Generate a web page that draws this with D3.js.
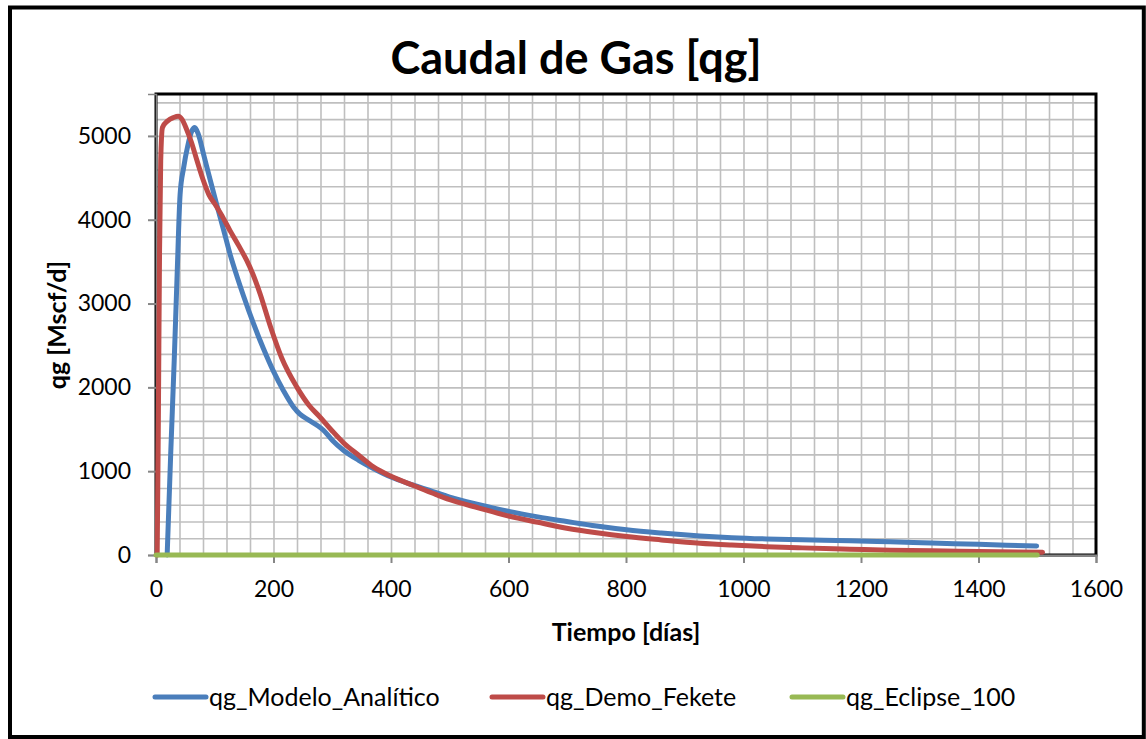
<!DOCTYPE html>
<html>
<head>
<meta charset="utf-8">
<script src="https://cdn.jsdelivr.net/npm/d3@7"></script>
<style>
  html, body { margin: 0; padding: 0; background: #fff; }
  svg { display: block; font-family: Lato, "Open Sans", sans-serif; }
</style>
</head>
<body>
<svg id="chart" width="1146" height="739"></svg>
<script>
// ---- data ----
const title = "Caudal de Gas [qg]";
const xTitle = "Tiempo [días]";
const yTitle = "qg [Mscf/d]";
const xTicks = [0, 200, 400, 600, 800, 1000, 1200, 1400, 1600];
const yTicks = [0, 1000, 2000, 3000, 4000, 5000];
const seriesNames = ["qg_Modelo_Analítico", "qg_Demo_Fekete", "qg_Eclipse_100"];

const analiticoT = [19, 25, 31, 36, 41, 47, 54, 61, 66, 72, 81, 92, 103, 115, 126, 138, 149, 166, 183, 200, 217, 234, 245, 260, 274, 285, 300, 319, 345, 370, 400, 438, 470, 500, 550, 597, 650, 699, 750, 801, 860, 926, 980, 1039, 1100, 1181, 1250, 1320, 1400, 1499];
const analiticoQ = [0, 1200, 2320, 3350, 4300, 4620, 4880, 5060, 5100, 5020, 4780, 4480, 4190, 3880, 3590, 3320, 3090, 2760, 2460, 2190, 1960, 1766, 1680, 1610, 1548, 1488, 1370, 1250, 1130, 1032, 930, 835, 760, 690, 600, 525, 455, 400, 345, 300, 262, 228, 207, 192, 182, 170, 157, 143, 127, 107];

const feketeT = [2, 4, 6, 8, 11, 20, 30, 38, 44, 52, 60, 70, 80, 90, 100, 112, 126, 140, 154, 165, 177, 195, 214, 240, 260, 279, 300, 319, 345, 370, 400, 438, 470, 500, 550, 597, 650, 699, 750, 801, 860, 926, 980, 1039, 1100, 1181, 1250, 1320, 1400, 1509];
const feketeQ = [0, 1600, 3600, 4700, 5100, 5180, 5220, 5235, 5200, 5080, 4930, 4700, 4480, 4300, 4190, 4050, 3870, 3700, 3520, 3350, 3120, 2720, 2350, 2000, 1790, 1647, 1480, 1340, 1190, 1051, 940, 830, 740, 660, 560, 470, 390, 320, 265, 220, 180, 140, 118, 99, 85, 70, 58, 50, 42, 32];

const eclipseT = [0, 250, 500, 750, 1000, 1250, 1500];
const eclipseQ = [0, 0, 0, 0, 0, 0, 0];

const colors = ["#4a7ebb", "#be4b48", "#98b954"];

// ---- layout ----
const svg = d3.select("#chart");
const X0 = 156, X1 = 1096, Y0 = 555, Y1 = 94;
const x = d3.scaleLinear().domain([0, 1600]).range([X0, X1]);
const y = d3.scaleLinear().domain([0, 5500]).range([Y0, Y1]);

// outer border
svg.append("rect").attr("x", 10).attr("y", 7.5).attr("width", 1133.8).attr("height", 729.5)
  .attr("fill", "#fff").attr("stroke", "#000").attr("stroke-width", 4);

// gridlines
const gx = svg.append("g").attr("transform", `translate(0,${Y0})`)
  .call(d3.axisBottom(x).tickValues(d3.range(40, 1600, 40)).tickSize(-(Y0 - Y1)).tickFormat(""));
gx.select(".domain").remove();
gx.selectAll("line").attr("stroke", "#bfbfbf").attr("stroke-width", 1.6);
const gy = svg.append("g").attr("transform", `translate(${X0},0)`)
  .call(d3.axisLeft(y).tickValues(d3.range(200, 5500, 200)).tickSize(-(X1 - X0)).tickFormat(""));
gy.select(".domain").remove();
gy.selectAll("line").attr("stroke", "#bfbfbf").attr("stroke-width", 1.6);

// plot area border
svg.append("rect").attr("x", X0).attr("y", Y1).attr("width", X1 - X0).attr("height", Y0 - Y1)
  .attr("fill", "none").attr("stroke", "#000").attr("stroke-width", 3);

// axes
const ax = svg.append("g").attr("transform", `translate(0,${Y0})`)
  .call(d3.axisBottom(x).tickValues(xTicks).tickSize(8).tickFormat(d3.format("d")));
ax.select(".domain").attr("stroke", "#868686").attr("stroke-width", 2);
ax.selectAll(".tick line").attr("stroke", "#868686").attr("stroke-width", 2);
ax.selectAll(".tick text").attr("y", 42).attr("dy", 0)
  .attr("font-size", 23).attr("fill", "#000").attr("font-family", "Lato");

const ay = svg.append("g").attr("transform", `translate(${X0},0)`)
  .call(d3.axisLeft(y).tickValues(yTicks).tickSize(8).tickPadding(17).tickFormat(d3.format("d")));
ay.select(".domain").attr("stroke", "#868686").attr("stroke-width", 1.5);
ay.selectAll(".tick line").attr("stroke", "#868686").attr("stroke-width", 2);
ay.selectAll(".tick text").attr("font-size", 23).attr("fill", "#000").attr("font-family", "Lato");

// series
const line = d3.line().x(d => x(d[0])).y(d => y(d[1])).curve(d3.curveMonotoneX);
const series = [
  d3.zip(analiticoT, analiticoQ),
  d3.zip(feketeT, feketeQ),
  d3.zip(eclipseT, eclipseQ)
];
series.forEach((s, i) => {
  svg.append("path").datum(s).attr("d", line)
    .attr("fill", "none").attr("stroke", colors[i]).attr("stroke-width", 5)
    .attr("stroke-linejoin", "round").attr("stroke-linecap", "round");
});

// titles
svg.append("text").attr("x", 576).attr("y", 74).attr("text-anchor", "middle")
  .attr("font-size", 45).attr("font-weight", "bold").text(title);
svg.append("text").attr("x", 626).attr("y", 641).attr("text-anchor", "middle")
  .attr("font-size", 25).attr("font-weight", "bold").text(xTitle);
svg.append("text").attr("transform", "translate(66,325) rotate(-90)").attr("text-anchor", "middle")
  .attr("font-size", 25).attr("font-weight", "bold").text(yTitle);

// legend
const legX = [153, 490, 790];
seriesNames.forEach((n, i) => {
  const g = svg.append("g").attr("transform", `translate(${legX[i]},697)`);
  g.append("line").attr("x1", 2).attr("x2", 53).attr("y1", 0).attr("y2", 0)
    .attr("stroke", colors[i]).attr("stroke-width", 5).attr("stroke-linecap", "round");
  g.append("text").attr("x", 56).attr("y", 9).attr("font-size", 25).text(n);
});
</script>
</body>
</html>
